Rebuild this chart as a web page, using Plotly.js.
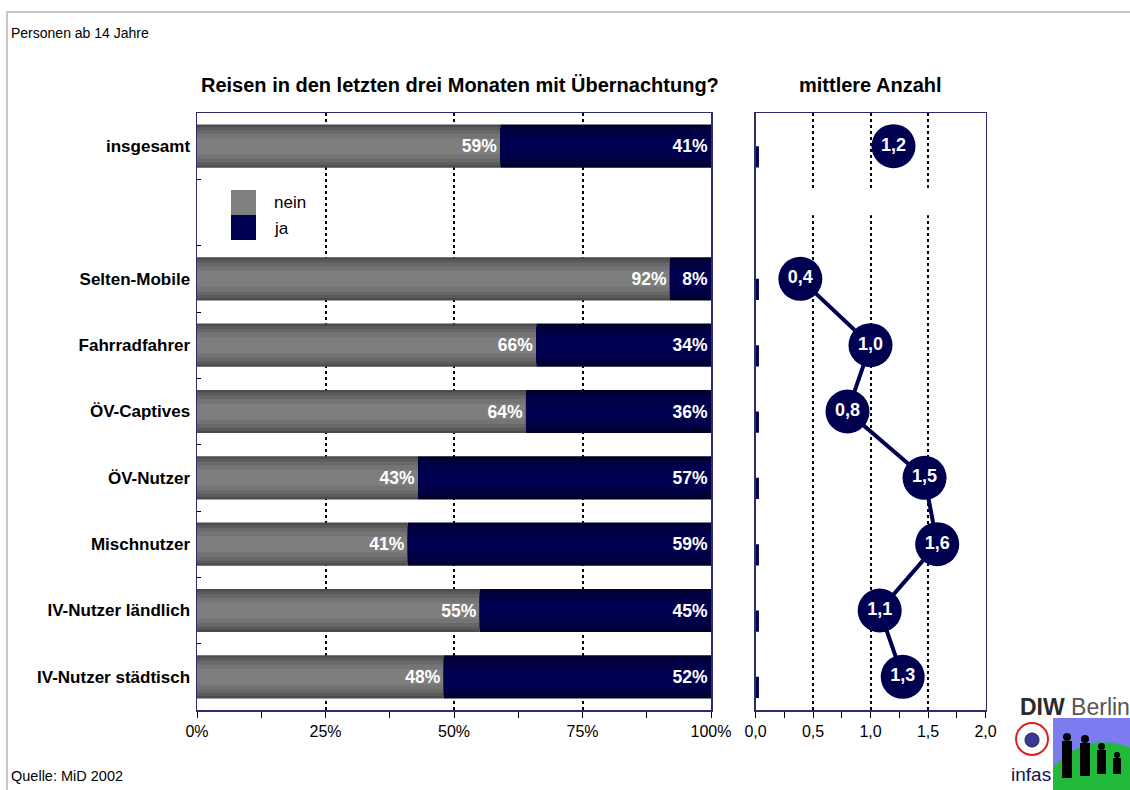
<!DOCTYPE html>
<html>
<head>
<meta charset="utf-8">
<script src="https://cdn.plot.ly/plotly-3.0.1.min.js"></script>
<style>html,body{margin:0;padding:0;background:#fff;}#chart{width:1130px;height:790px;}</style>
</head>
<body>
<div id="chart"></div>
<script>
// ---- data ----
const categories = ['insgesamt', ' ', 'Selten-Mobile', 'Fahrradfahrer', 'ÖV-Captives', 'ÖV-Nutzer', 'Mischnutzer', 'IV-Nutzer ländlich', 'IV-Nutzer städtisch'];
const nein = [59, null, 92, 66, 64, 43, 41, 55, 48];
const ja = [41, null, 8, 34, 36, 57, 59, 45, 52];
const avgTrips = [1.2, null, 0.39, 1.0, 0.8, 1.47, 1.58, 1.08, 1.28];
const seriesNames = ['nein', 'ja'];
const pctTickValues = [0, 25, 50, 75, 100];
const pctTickLabels = ['0%', '25%', '50%', '75%', '100%'];
const avgTickValues = [0, 0.5, 1, 1.5, 2];
const avgTickLabels = ['0,0', '0,5', '1,0', '1,5', '2,0'];

// ---- styles ----
const W = 1130, H = 790;
const px = x => x / W;
const py = y => 1 - y / H;
const NAVY = '#000050';
const FRAME = '#2c2c6e';
const FONT = 'Liberation Sans, Arial, sans-serif';
const grayLayers = [[0.65, '#4b4b4b'], [0.58, '#5a5a5a'], [0.49, '#686868'], [0.38, '#747474'], [0.24, '#7e7e7e']];
const navyLayers = [[0.65, '#00002c'], [0.55, '#00003c'], [0.42, '#000048'], [0.24, '#000050']];

const traces = [];
grayLayers.forEach(([w, c]) => traces.push({
  type: 'bar', orientation: 'h', y: categories, x: nein, base: 0, width: w,
  marker: {color: c, line: {width: 0}}, hoverinfo: 'skip', showlegend: false, xaxis: 'x', yaxis: 'y'
}));
navyLayers.forEach(([w, c]) => traces.push({
  type: 'bar', orientation: 'h', y: categories, x: ja, base: nein, width: w,
  marker: {color: c, line: {width: 0}}, hoverinfo: 'skip', showlegend: false, xaxis: 'x', yaxis: 'y'
}));
const labelFont = {family: FONT, size: 17.5, color: '#ffffff'};
traces.push({
  type: 'bar', orientation: 'h', y: categories, x: nein, base: 0, width: 0.65, name: seriesNames[0],
  text: nein.map(v => v == null ? '' : '<b>' + v + '%</b>'), textposition: 'inside', insidetextanchor: 'end',
  constraintext: 'none', textfont: labelFont, marker: {color: 'rgba(0,0,0,0)'}, hoverinfo: 'skip', showlegend: false
});
traces.push({
  type: 'bar', orientation: 'h', y: categories, x: ja, base: nein, width: 0.65, name: seriesNames[1],
  text: ja.map(v => v == null ? '' : '<b>' + v + '%</b>'), textposition: 'inside', insidetextanchor: 'end',
  constraintext: 'none', textfont: labelFont, marker: {color: 'rgba(0,0,0,0)'}, hoverinfo: 'skip', showlegend: false
});
// small stubs at the left edge of the right panel
traces.push({
  type: 'bar', orientation: 'h', y: categories, x: avgTrips.map(v => v == null ? null : 0.03), base: 0,
  width: 0.32, offset: 0, marker: {color: NAVY}, hoverinfo: 'skip', showlegend: false, xaxis: 'x2', yaxis: 'y2'
});
traces.push({
  type: 'scatter', mode: 'lines+markers+text', x: avgTrips, y: categories, xaxis: 'x2', yaxis: 'y2',
  connectgaps: false, line: {color: NAVY, width: 4},
  marker: {size: 44, color: NAVY, line: {width: 0}},
  text: avgTrips.map(v => v == null ? '' : '<b>' + v.toFixed(1).replace('.', ',') + '</b>'),
  textposition: 'middle center', textfont: {family: FONT, size: 18, color: '#ffffff'},
  cliponaxis: false, hoverinfo: 'skip', showlegend: false
});

const plotTop = 113, plotBottom = 710;
const layout = {
  width: W, height: H, margin: {l: 0, r: 0, t: 0, b: 0},
  paper_bgcolor: '#ffffff', plot_bgcolor: '#ffffff',
  barmode: 'overlay', separators: ',.',
  font: {family: FONT, color: '#000000'},
  showlegend: false,
  xaxis: {
    domain: [px(197), px(711)], range: [0, 100], tickmode: 'array', tickvals: pctTickValues, ticktext: pctTickLabels,
    ticks: 'outside', ticklen: 6, tickcolor: '#000', tickwidth: 1,
    minor: {dtick: 12.5, ticks: 'outside', ticklen: 6, tickcolor: '#000', showgrid: false},
    showgrid: true, gridcolor: '#000000', griddash: 'dot', gridwidth: 2,
    showline: true, linecolor: FRAME, linewidth: 1.5, mirror: true, zeroline: false,
    tickfont: {size: 16, color: '#000'}, anchor: 'y', fixedrange: true
  },
  yaxis: {
    domain: [py(plotBottom), py(plotTop)], type: 'category', categoryorder: 'array', categoryarray: categories,
    range: [8.5, -0.5], showgrid: false, showline: true, linecolor: FRAME, linewidth: 1.5, mirror: true,
    ticks: 'inside', ticklen: 4, tickcolor: '#000', tickson: 'boundaries', ticklabelstandoff: 2,
    tickfont: {size: 17, color: '#000', weight: 'bold'}, anchor: 'x', fixedrange: true
  },
  xaxis2: {
    domain: [px(755.5), px(985.5)], range: [0, 2], tickmode: 'array', tickvals: avgTickValues, ticktext: avgTickLabels,
    ticks: 'outside', ticklen: 6, tickcolor: '#000',
    minor: {dtick: 0.25, ticks: 'outside', ticklen: 6, tickcolor: '#000', showgrid: false},
    showgrid: true, gridcolor: '#000000', griddash: 'dot', gridwidth: 2,
    showline: true, linecolor: FRAME, linewidth: 1.5, mirror: true, zeroline: false,
    tickfont: {size: 16, color: '#000'}, anchor: 'y2', fixedrange: true
  },
  yaxis2: {
    domain: [py(plotBottom), py(plotTop)], type: 'category', categoryorder: 'array', categoryarray: categories,
    range: [8.5, -0.5], showgrid: false, showline: true, linecolor: FRAME, linewidth: 1.5, mirror: true,
    showticklabels: false, ticks: '', anchor: 'x2', fixedrange: true
  },
  shapes: [
    // outer border
    {type: 'rect', xref: 'paper', yref: 'paper', x0: px(7), x1: 1.02, y0: -0.02, y1: py(12),
     line: {color: '#c8c8c8', width: 2}, fillcolor: 'rgba(0,0,0,0)', layer: 'below'},
    // gap in right panel gridlines
    {type: 'rect', xref: 'x2', yref: 'y2', x0: 0.02, x1: 1.98, y0: 0.66, y1: 1.04,
     line: {width: 0}, fillcolor: '#ffffff', layer: 'between'},
    // legend swatches
    {type: 'rect', xref: 'paper', yref: 'paper', x0: px(231), x1: px(256), y0: py(215), y1: py(190),
     line: {width: 0}, fillcolor: '#808080'},
    {type: 'rect', xref: 'paper', yref: 'paper', x0: px(231), x1: px(256), y0: py(240), y1: py(215),
     line: {width: 0}, fillcolor: NAVY},
    // logo: infas emblem
    {type: 'circle', xref: 'paper', yref: 'paper', x0: px(1016), x1: px(1048), y0: py(755), y1: py(723),
     line: {color: '#e02020', width: 2}, fillcolor: '#ffffff'},
    {type: 'circle', xref: 'paper', yref: 'paper', x0: px(1025), x1: px(1039), y0: py(747), y1: py(733),
     line: {color: '#1a1a60', width: 1}, fillcolor: '#3a3a90'},
    // logo: image block
    {type: 'rect', xref: 'paper', yref: 'paper', x0: px(1053), x1: px(1131), y0: py(791), y1: py(718),
     line: {width: 0}, fillcolor: '#7c7cf0'},
    {type: 'path', xref: 'paper', yref: 'paper',
     path: `M ${px(1053)} ${py(791)} L ${px(1053)} ${py(768)} Q ${px(1085)} ${py(730)} ${px(1131)} ${py(748)} L ${px(1131)} ${py(791)} Z`,
     line: {width: 0}, fillcolor: '#22b83a'},
    // figures
    {type: 'circle', xref: 'paper', yref: 'paper', x0: px(1063), x1: px(1071), y0: py(741), y1: py(733), line: {width: 0}, fillcolor: '#000'},
    {type: 'rect', xref: 'paper', yref: 'paper', x0: px(1062), x1: px(1072), y0: py(778), y1: py(741), line: {width: 0}, fillcolor: '#000'},
    {type: 'circle', xref: 'paper', yref: 'paper', x0: px(1081), x1: px(1089), y0: py(743), y1: py(735), line: {width: 0}, fillcolor: '#000'},
    {type: 'rect', xref: 'paper', yref: 'paper', x0: px(1080), x1: px(1090), y0: py(776), y1: py(743), line: {width: 0}, fillcolor: '#000'},
    {type: 'circle', xref: 'paper', yref: 'paper', x0: px(1098), x1: px(1105), y0: py(750), y1: py(743), line: {width: 0}, fillcolor: '#000'},
    {type: 'rect', xref: 'paper', yref: 'paper', x0: px(1097), x1: px(1106), y0: py(774), y1: py(750), line: {width: 0}, fillcolor: '#000'},
    {type: 'circle', xref: 'paper', yref: 'paper', x0: px(1114), x1: px(1120), y0: py(758), y1: py(752), line: {width: 0}, fillcolor: '#000'},
    {type: 'rect', xref: 'paper', yref: 'paper', x0: px(1113), x1: px(1121), y0: py(774), y1: py(758), line: {width: 0}, fillcolor: '#000'}
  ],
  annotations: [
    {xref: 'paper', yref: 'paper', x: px(460), y: py(85), xanchor: 'center', yanchor: 'middle', showarrow: false,
     text: '<b>Reisen in den letzten drei Monaten mit Übernachtung?</b>', font: {size: 20, color: '#000'}},
    {xref: 'paper', yref: 'paper', x: px(870), y: py(85), xanchor: 'center', yanchor: 'middle', showarrow: false,
     text: '<b>mittlere Anzahl</b>', font: {size: 20, color: '#000'}},
    {xref: 'paper', yref: 'paper', x: px(9), y: py(33), xanchor: 'left', yanchor: 'middle', showarrow: false,
     text: 'Personen ab 14 Jahre', font: {size: 14, color: '#000'}},
    {xref: 'paper', yref: 'paper', x: px(9), y: py(776), xanchor: 'left', yanchor: 'middle', showarrow: false,
     text: 'Quelle: MiD 2002', font: {size: 14.5, color: '#000'}},
    {xref: 'paper', yref: 'paper', x: px(272), y: py(202), xanchor: 'left', yanchor: 'middle', showarrow: false,
     text: seriesNames[0], font: {size: 17, color: '#000'}},
    {xref: 'paper', yref: 'paper', x: px(272), y: py(228), xanchor: 'left', yanchor: 'middle', showarrow: false,
     text: seriesNames[1], font: {size: 17, color: '#000'}},
    {xref: 'paper', yref: 'paper', x: px(1018), y: py(707), xanchor: 'left', yanchor: 'middle', showarrow: false,
     text: '<b>DIW</b> <span style="color:#555">Berlin</span>', font: {size: 23, color: '#2a2a2a'}},
    {xref: 'paper', yref: 'paper', x: px(1031), y: py(774), xanchor: 'center', yanchor: 'middle', showarrow: false,
     text: 'infas', font: {size: 19, color: '#12125a'}}
  ]
};

Plotly.newPlot('chart', traces, layout, {staticPlot: true, displayModeBar: false});
</script>
</body>
</html>
